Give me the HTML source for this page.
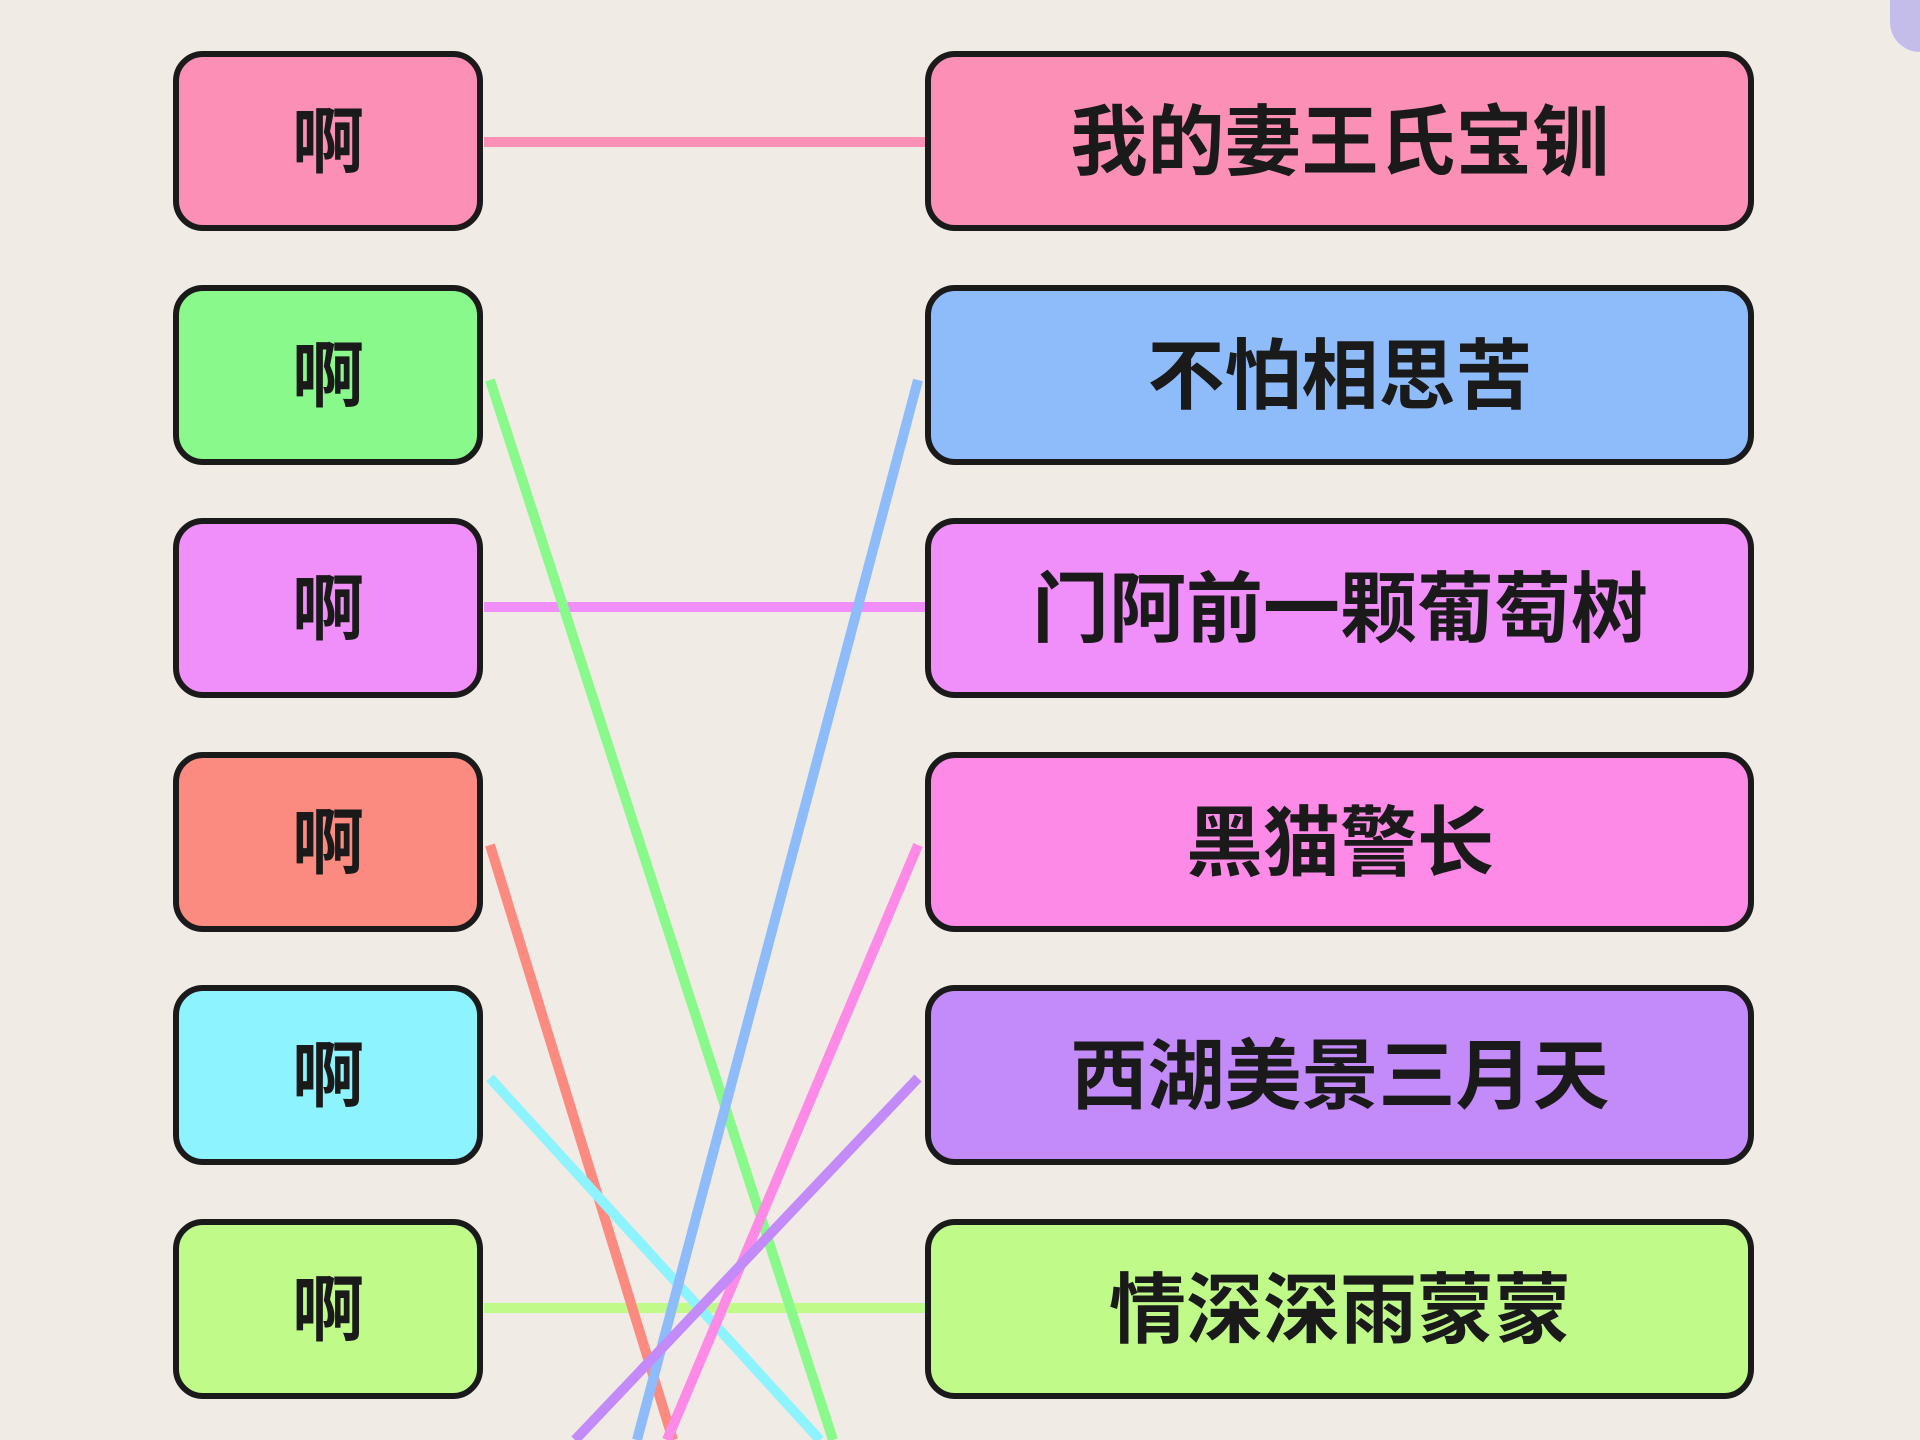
<!DOCTYPE html>
<html><head><meta charset="utf-8"><style>
html,body{margin:0;padding:0;background:#f0ebe4;}
svg{display:block}
text{font-family:"Liberation Sans","Noto Sans CJK SC",sans-serif;font-weight:bold;fill:#1a1a1a;}
</style></head><body>
<svg width="1920" height="1440" viewBox="0 0 1920 1440" xmlns="http://www.w3.org/2000/svg">
<rect width="1920" height="1440" fill="#f0ebe4"/>
<rect x="1890" y="-40" width="80" height="92" rx="30" fill="#c4bdea"/>
<g stroke-width="10" stroke-linecap="butt">
<line x1="484" y1="142" x2="928" y2="142" stroke="#fb8fb6"/>
<line x1="484" y1="607" x2="928" y2="607" stroke="#f08efa"/>
<line x1="484" y1="1308" x2="928" y2="1308" stroke="#c0fb8a"/>
<line x1="490" y1="380" x2="833" y2="1440" stroke="#88f98a"/>
<line x1="490" y1="845" x2="673" y2="1440" stroke="#fb8a80"/>
<line x1="490" y1="1078" x2="820" y2="1440" stroke="#8df3ff"/>
<line x1="918" y1="380" x2="637" y2="1440" stroke="#8ebcfb"/>
<line x1="918" y1="845" x2="667" y2="1440" stroke="#fc8ae6"/>
<line x1="918" y1="1078" x2="575" y2="1440" stroke="#c38afa"/>
</g>
<g stroke="#1a1a1a" stroke-width="6">
<rect x="176" y="54" width="304" height="174" rx="27" fill="#fb8fb6"/>
<rect x="176" y="288" width="304" height="174" rx="27" fill="#88f98a"/>
<rect x="176" y="521" width="304" height="174" rx="27" fill="#f08efa"/>
<rect x="176" y="755" width="304" height="174" rx="27" fill="#fb8a80"/>
<rect x="176" y="988" width="304" height="174" rx="27" fill="#8df3ff"/>
<rect x="176" y="1222" width="304" height="174" rx="27" fill="#c0fb8a"/>
<rect x="928" y="54" width="823" height="174" rx="27" fill="#fb8fb6"/>
<rect x="928" y="288" width="823" height="174" rx="27" fill="#8ebcfb"/>
<rect x="928" y="521" width="823" height="174" rx="27" fill="#f08efa"/>
<rect x="928" y="755" width="823" height="174" rx="27" fill="#fc8ae6"/>
<rect x="928" y="988" width="823" height="174" rx="27" fill="#c38afa"/>
<rect x="928" y="1222" width="823" height="174" rx="27" fill="#c0fb8a"/>
</g>
<g font-size="72" text-anchor="middle">
<text x="328" y="167">啊</text>
<text x="328" y="401">啊</text>
<text x="328" y="634">啊</text>
<text x="328" y="868">啊</text>
<text x="328" y="1101">啊</text>
<text x="328" y="1335">啊</text>
</g>
<g font-size="77" text-anchor="middle">
<text x="1340" y="169">我的妻王氏宝钏</text>
<text x="1340" y="403">不怕相思苦</text>
<text x="1340" y="636">门阿前一颗葡萄树</text>
<text x="1340" y="870">黑猫警长</text>
<text x="1340" y="1103">西湖美景三月天</text>
<text x="1340" y="1337">情深深雨蒙蒙</text>
</g>
</svg>
</body></html>
